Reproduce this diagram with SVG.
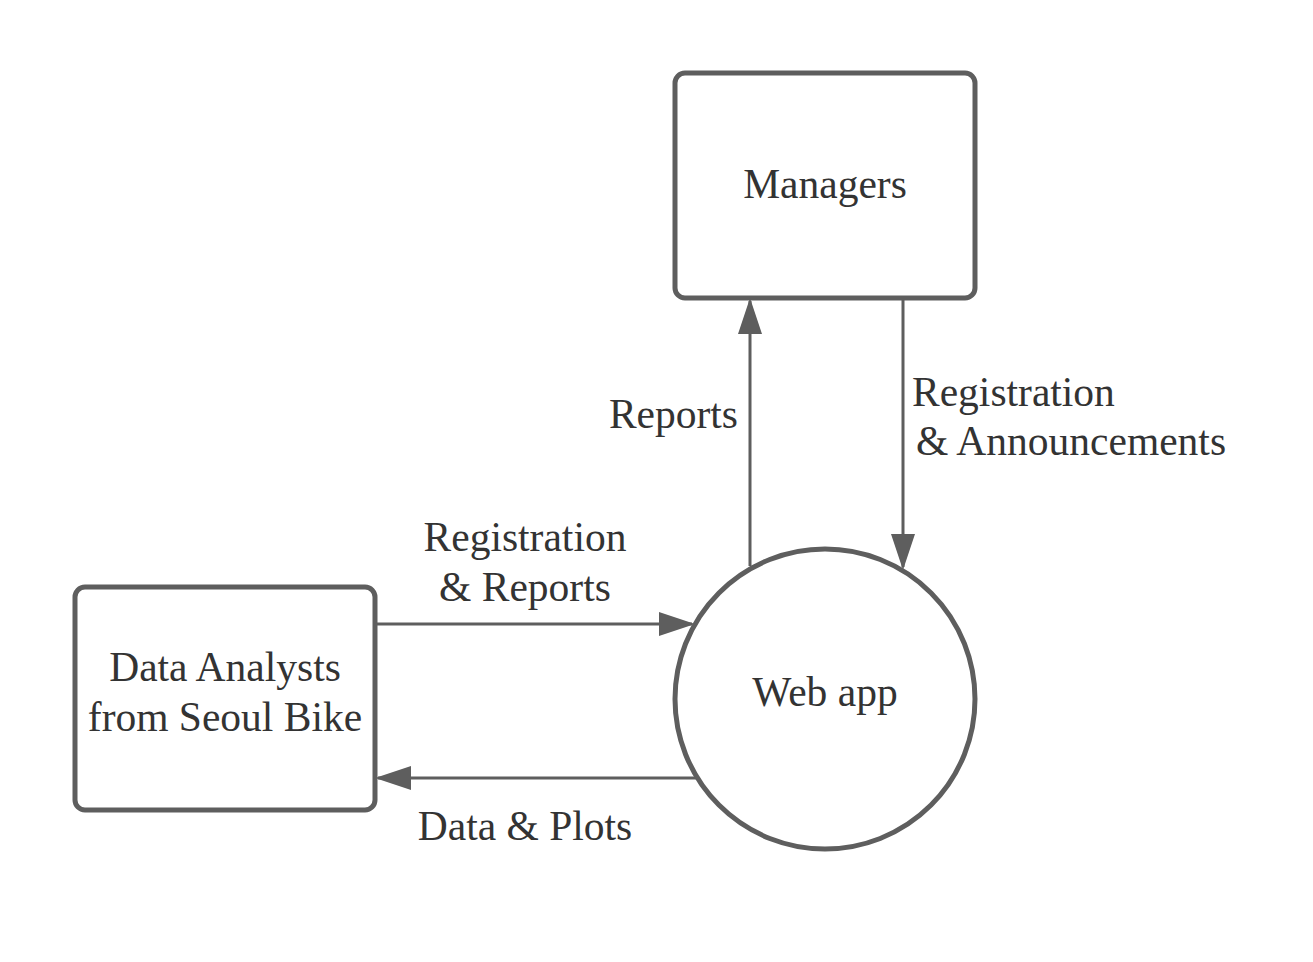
<svg xmlns="http://www.w3.org/2000/svg" width="1313" height="962" viewBox="0 0 1313 962">
<style>
.node{fill:#ffffff;stroke:#5e5e5e;stroke-width:5}
.lbl{font-family:"Liberation Serif","Times New Roman",serif;font-size:41.5px;fill:#333333}
.edge{stroke:#5e5e5e;stroke-width:3;fill:none}
</style>
<defs>
<marker id="arr" markerWidth="12" markerHeight="8" refX="11" refY="4" orient="auto" markerUnits="strokeWidth" viewBox="0 0 12 8">
<path d="M0,0 L12,4 L0,8 Z" fill="#5e5e5e"/>
</marker>
</defs>
<rect width="1313" height="962" fill="#ffffff"/>
<g id="connectors">
<line class="edge" x1="377" y1="624" x2="692" y2="624" marker-end="url(#arr)"/>
<line class="edge" x1="697" y1="778" x2="378" y2="778" marker-end="url(#arr)"/>
<line class="edge" x1="750" y1="566" x2="750" y2="301" marker-end="url(#arr)"/>
<line class="edge" x1="903" y1="300" x2="903" y2="567" marker-end="url(#arr)"/>
<text class="lbl" x="525" y="551" text-anchor="middle">Registration</text>
<text class="lbl" x="525" y="601" text-anchor="middle">&amp; Reports</text>
<text class="lbl" x="525" y="840" text-anchor="middle">Data &amp; Plots</text>
<text class="lbl" x="738" y="428" text-anchor="end">Reports</text>
<text class="lbl" x="912" y="406">Registration</text>
<text class="lbl" x="916" y="455">&amp; Announcements</text>
</g>
<g id="managers">
<rect class="node" x="675" y="73" width="300" height="225" rx="10"/>
<text class="lbl" x="825" y="198" text-anchor="middle">Managers</text>
</g>
<g id="analysts">
<rect class="node" x="75" y="587" width="300" height="223" rx="10"/>
<text class="lbl" x="225" y="681" text-anchor="middle">Data Analysts</text>
<text class="lbl" x="225" y="731" text-anchor="middle">from Seoul Bike</text>
</g>
<g id="webapp">
<circle class="node" cx="825" cy="699" r="150"/>
<text class="lbl" x="825" y="706" text-anchor="middle">Web app</text>
</g>
</svg>
